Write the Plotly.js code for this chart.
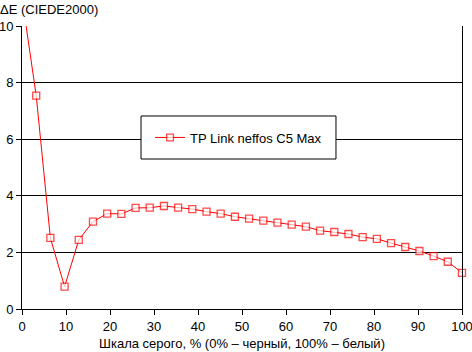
<!DOCTYPE html>
<html>
<head>
<meta charset="utf-8">
<script src="https://cdn.plot.ly/plotly-3.0.1.min.js"></script>
<style>html,body{margin:0;padding:0;background:#fff;}#chart{width:472px;height:352px;}</style>
</head>
<body>
<div id="chart"></div>
<script>
// Grey scale steps, % (32 steps from 0 to 100)
var grayPercent = [0, 3.23, 6.45, 9.68, 12.9, 16.13, 19.35, 22.58, 25.81, 29.03, 32.26, 35.48, 38.71, 41.94, 45.16, 48.39,
  51.61, 54.84, 58.06, 61.29, 64.52, 67.74, 70.97, 74.19, 77.42, 80.65, 83.87, 87.1, 90.32, 93.55, 96.77, 100];
// ΔE (CIEDE2000)
var deltaE = [11.0, 7.54, 2.51, 0.79, 2.44, 3.09, 3.37, 3.36, 3.57, 3.58, 3.64, 3.58, 3.53, 3.44, 3.37, 3.26,
  3.19, 3.12, 3.05, 2.98, 2.91, 2.77, 2.72, 2.65, 2.54, 2.48, 2.33, 2.19, 2.05, 1.87, 1.67, 1.28];
var seriesName = 'TP Link neffos C5 Max';
var xTicks = [0, 10, 20, 30, 40, 50, 60, 70, 80, 90, 100];
var yTicks = [0, 2, 4, 6, 8, 10];
var yMax = 10;

var font = {family: 'Liberation Sans, Arial, sans-serif', size: 13, color: '#000'};

var trace = {
  x: grayPercent, y: deltaE, name: seriesName,
  type: 'scatter', mode: 'lines+markers', cliponaxis: false,
  line: {color: '#ff0000', width: 1},
  marker: {symbol: 'square', size: deltaE.map(function (v) { return v > yMax ? 0 : 7; }),
    color: '#ffffff', line: {color: '#ff0000', width: 1.3}}
};

var layout = {
  width: 472, height: 352,
  margin: {l: 22, r: 10, t: 26, b: 43},
  paper_bgcolor: '#fff', plot_bgcolor: '#fff',
  font: font,
  showlegend: true,
  title: {text: 'ΔE (CIEDE2000)', x: 0, xref: 'container', xanchor: 'left', y: 1 - 9/352, yanchor: 'middle', font: font},
  xaxis: {
    range: [0, 100], tickvals: xTicks, ticktext: xTicks.map(String),
    showgrid: false, zeroline: false, showline: true, linecolor: '#000', linewidth: 1,
    ticks: 'outside', ticklen: 5, tickcolor: '#000', tickfont: font, ticklabeloverflow: 'allow',
    title: {text: 'Шкала серого, % (0% – черный, 100% – белый)', font: font, standoff: 6}
  },
  yaxis: {
    range: [0, yMax], tickvals: yTicks, ticktext: yTicks.map(String),
    showgrid: true, gridcolor: '#000', gridwidth: 1, zeroline: false,
    showline: true, linecolor: '#000', linewidth: 1, mirror: true,
    ticks: 'outside', ticklen: 5, tickcolor: '#000', tickfont: font
  },
  shapes: [{
    type: 'rect', xref: 'paper', yref: 'paper', layer: 'above',
    x0: 0.2705, x1: 0.7136, y0: 0.530, y1: 0.682,
    line: {color: '#000', width: 1}, fillcolor: '#fff'
  }],
  legend: {
    x: 0.291, y: 0.606, xanchor: 'left', yanchor: 'middle',
    bgcolor: 'rgba(0,0,0,0)', borderwidth: 0, font: font
  }
};

Plotly.newPlot('chart', [trace], layout, {staticPlot: true, displayModeBar: false});
</script>
</body>
</html>
